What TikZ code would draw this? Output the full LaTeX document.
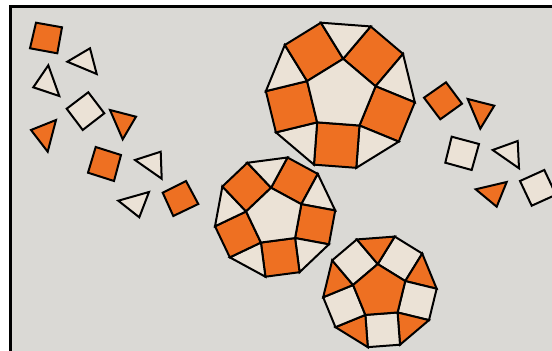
\documentclass[tikz,border=0pt]{standalone}
\usetikzlibrary{calc}
\definecolor{bggray}{HTML}{DAD9D5}
\definecolor{tileorange}{HTML}{EE7022}
\definecolor{tilelight}{HTML}{EBE2D6}
\tikzset{
  tile/.style={draw=black, line width=2pt, line join=miter},
  frame/.style={draw=black, line width=2.2pt, fill=bggray}
}
% #1 cx, #2 cy, #3 R, #4 rotation, #5 pentagon fill, #6 square fill, #7 triangle fill
\newcommand{\tilepatch}[7]{%
  \pgfmathsetmacro{\tpS}{2*#3*sin(36)}%
  \foreach \i in {0,...,4}{%
    \pgfmathsetmacro{\tpA}{#4+72*\i}%
    \pgfmathsetmacro{\tpB}{#4+72*\i+72}%
    \pgfmathsetmacro{\tpM}{#4+72*\i+36}%
    \pgfmathsetmacro{\tpN}{#4+72*\i+108}%
    \coordinate (pv\i) at ($(#1,#2)+(\tpA:#3)$);
    \draw[tile, fill=#6] ($(#1,#2)+(\tpA:#3)$) -- ($(#1,#2)+(\tpB:#3)$)
      -- ($(#1,#2)+(\tpB:#3)+(\tpM:\tpS)$) -- ($(#1,#2)+(\tpA:#3)+(\tpM:\tpS)$) -- cycle;
    \draw[tile, fill=#7] ($(#1,#2)+(\tpB:#3)$) -- ($(#1,#2)+(\tpB:#3)+(\tpM:\tpS)$)
      -- ($(#1,#2)+(\tpB:#3)+(\tpN:\tpS)$) -- cycle;
  }%
  \draw[tile, fill=#5] (pv0) -- (pv1) -- (pv2) -- (pv3) -- (pv4) -- cycle;
}
\begin{document}
\begin{tikzpicture}[x=1pt,y=-1pt]
\clip (0,0) rectangle (552,351);
\useasboundingbox (0,0) rectangle (552,351);
\fill[white] (0,0) rectangle (552,351);
\draw[frame] (10.5,6.5) rectangle (580,380);

% large patches
\tilepatch{340.5}{94.8}{36.1}{-85.7}{tilelight}{tileorange}{tilelight}
\tilepatch{274.9}{216.8}{29.3}{-97.5}{tilelight}{tileorange}{tilelight}
\tilepatch{379.8}{291.5}{27.5}{-94.3}{tileorange}{tilelight}{tileorange}

% loose tiles, left group
\draw[tile, fill=tileorange] (36,22.7) -- (62,27.3) -- (57.3,53.3) -- (30,48.3) -- cycle;
\draw[tile, fill=tilelight] (67.3,61.7) -- (90,48.3) -- (96.7,74) -- cycle;
\draw[tile, fill=tilelight] (48.3,65.3) -- (33.3,87.3) -- (59.3,96) -- cycle;
\draw[tile, fill=tilelight] (66.7,108.7) -- (88.3,92.3) -- (104.3,113.3) -- (82.7,130) -- cycle;
\draw[tile, fill=tileorange] (110,110) -- (136,116.7) -- (122.7,139.3) -- cycle;
\draw[tile, fill=tileorange] (31,130) -- (56,120) -- (47.7,151.7) -- cycle;
\draw[tile, fill=tileorange] (95.7,147) -- (121,155) -- (114,181) -- (88,172.7) -- cycle;
\draw[tile, fill=tilelight] (135,160) -- (160.7,151.7) -- (161.7,178.7) -- cycle;
\draw[tile, fill=tilelight] (118.3,200.7) -- (149,192) -- (139.3,217.3) -- cycle;
\draw[tile, fill=tileorange] (162.7,192.7) -- (186,181) -- (198.3,204) -- (173.3,216) -- cycle;

% loose tiles, right group
\draw[tile, fill=tileorange] (424,97.7) -- (446,82.3) -- (462,103.7) -- (440.3,119.3) -- cycle;
\draw[tile, fill=tileorange] (467.7,99) -- (494.3,105.7) -- (480.3,128.7) -- cycle;
\draw[tile, fill=tilelight] (451.7,136.7) -- (479,144) -- (471.7,170) -- (445.3,162.7) -- cycle;
\draw[tile, fill=tilelight] (492.7,150) -- (517.7,141) -- (519,168.3) -- cycle;
\draw[tile, fill=tileorange] (475.7,189.3) -- (506.7,182) -- (496.7,206.7) -- cycle;
\draw[tile, fill=tilelight] (520,181) -- (544.3,170) -- (556,194.7) -- (531.7,205.7) -- cycle;
\end{tikzpicture}
\end{document}
